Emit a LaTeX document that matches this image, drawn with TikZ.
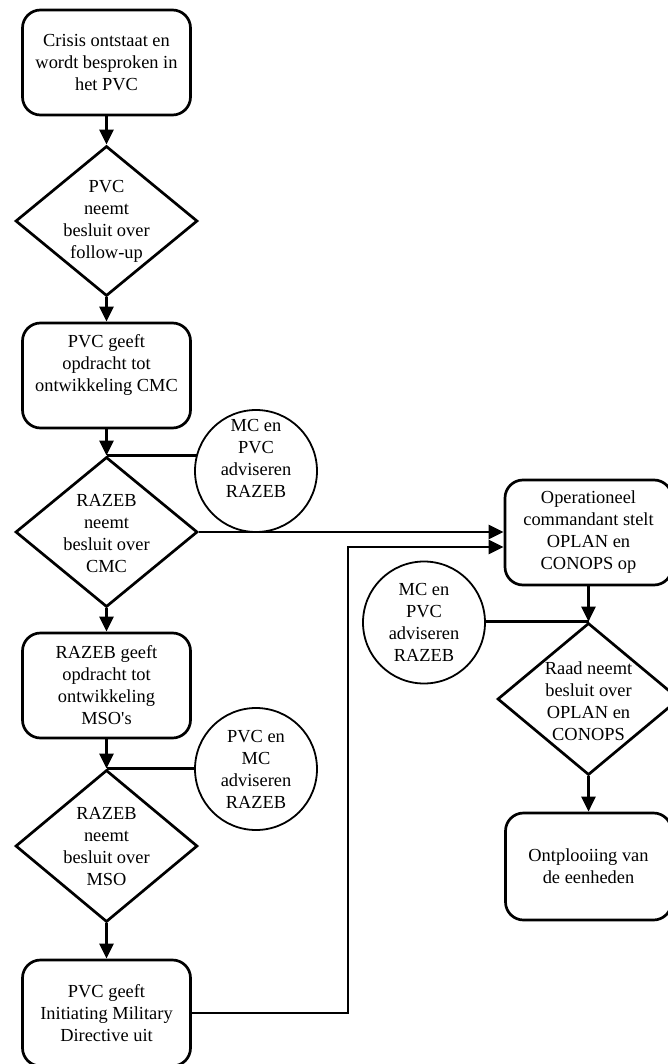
\documentclass[tikz,border=0pt]{standalone}
\usepackage{fontspec}
\setmainfont{Liberation Serif}
\usetikzlibrary{shapes.geometric,arrows.meta,backgrounds}
\begin{document}
\begin{tikzpicture}[x=1pt,y=-1pt,
  every node/.style={font=\fontsize{18.4}{22}\selectfont},
  box/.style={draw,line width=2.7pt,rounded corners=18pt,minimum width=168pt,minimum height=105pt,inner sep=0pt,align=center},
  dia/.style={draw,diamond,line width=2.7pt,minimum width=182pt,minimum height=150pt,inner sep=0pt},
  adv/.style={draw,circle,line width=1.8pt,minimum size=122pt,inner sep=0pt,fill=white,align=center},
  txt/.style={align=center,inner sep=0pt},
  flow/.style={line width=2.7pt,-{Triangle[length=15pt,width=14pt]}},
  link/.style={line width=2.5pt}]
\path[use as bounding box] (0,0) rectangle (668,1064);
\clip (0,0) rectangle (668,1064);

% left column
\node[box] (b1) at (106.5,62.5) {Crisis ontstaat en\\wordt besproken in\\het PVC};
\node[dia] (d1) at (106.5,221) {};
\node[txt] (t1) at (106.5,221) {PVC\\neemt\\besluit over\\follow-up};
\node[box] (b2) at (106.5,375.5) {};
\node[txt] (t2) at (106.5,365) {PVC geeft\\opdracht tot\\ontwikkeling CMC};
\node[dia] (d2) at (106.5,532) {};
\node[txt] (t3) at (106.5,534) {RAZEB\\neemt\\besluit over\\CMC};
\node[box] (b3) at (106.5,685.5) {RAZEB geeft\\opdracht tot\\ontwikkeling\\MSO\textquotesingle s};
\node[dia, minimum height=152pt] (d3) at (106.5,846) {};
\node[txt] (t4) at (106.5,847) {RAZEB\\neemt\\besluit over\\MSO};
\node[box, minimum height=106pt] (b4) at (106.5,1013) {PVC geeft\\Initiating Military\\Directive uit};

% advice circles
\node[adv] (c1) at (256,471) {};
\node[txt] (t5) at (256,458) {MC en\\PVC\\adviseren\\RAZEB};
\node[adv] (c2) at (256,769) {PVC en\\MC\\adviseren\\RAZEB};
\node[adv] (c3) at (424,622.5) {MC en\\PVC\\adviseren\\RAZEB};

% right column
\node[box, minimum width=167pt] (b5) at (588.5,532.5) {Operationeel\\commandant stelt\\OPLAN en\\CONOPS op};
\node[dia, minimum height=152pt] (d4) at (588.5,699) {};
\node[txt] (t6) at (588.5,701) {Raad neemt\\besluit over\\OPLAN en\\CONOPS};
\node[box, minimum width=166pt, minimum height=107pt] (b6) at (588.5,866.5) {Ontplooiing van\\de eenheden};

\coordinate (j) at (348,547);

% flow arrows
\draw[flow] (b1.south) -- (d1.north);
\draw[flow] (d1.south) -- (b2.north);
\draw[flow] (b2.south) -- (d2.north);
\draw[flow] (d2.south) -- (b3.north);
\draw[flow] (b3.south) -- (d3.north);
\draw[flow] (d3.south) -- (b4.north);
\draw[flow] (b5.south) -- (d4.north);
\draw[flow] (d4.south) -- (b6.north);
\draw[flow] (d2.east) -- (d2.east -| b5.west);
\draw[flow] (b4.east) -| (j) -- (j -| b5.west);

% advice links
\begin{scope}[on background layer]
\draw[link] (d2.north) -- (d2.north -| c1.center);
\draw[link] (d3.north) -- (d3.north -| c2.center);
\draw[link] (d4.north) -- (d4.north -| c3.center);
\end{scope}
\end{tikzpicture}
\end{document}
